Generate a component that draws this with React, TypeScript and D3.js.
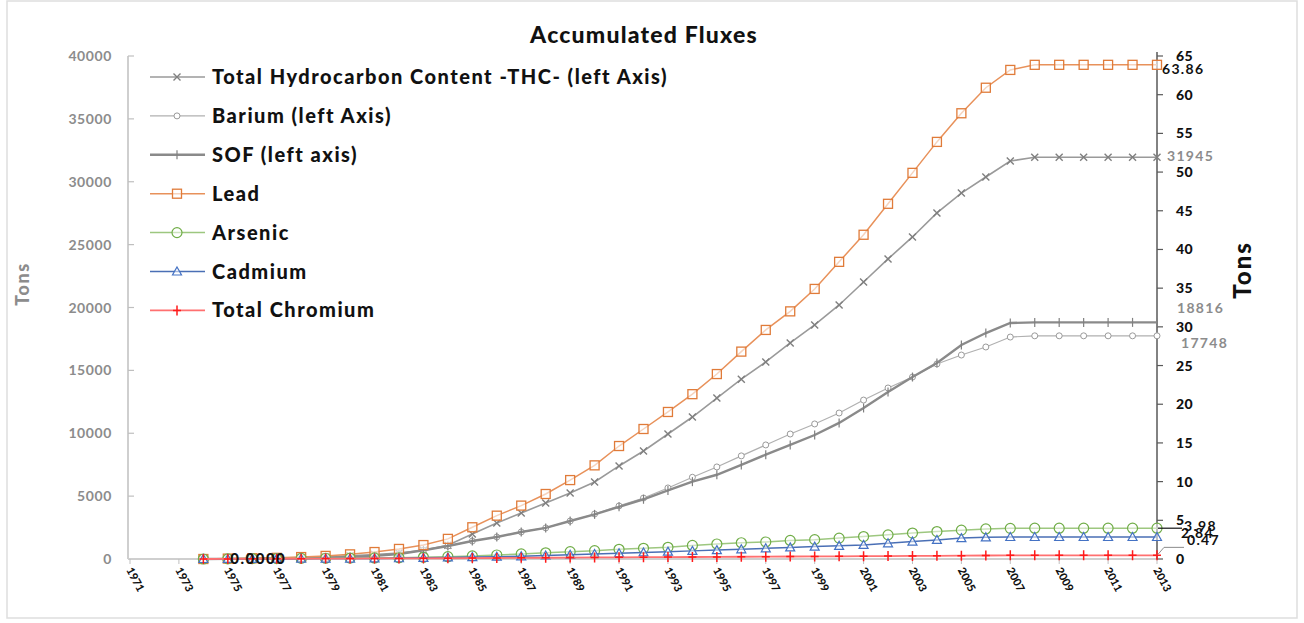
import React from "react";
import * as d3 from "d3";

const years = [1974,1975,1976,1977,1978,1979,1980,1981,1982,1983,1984,1985,1986,1987,1988,1989,1990,1991,1992,1993,1994,1995,1996,1997,1998,1999,2000,2001,2002,2003,2004,2005,2006,2007,2008,2009,2010,2011,2012,2013];
const xTickYears = [1971,1973,1975,1977,1979,1981,1983,1985,1987,1989,1991,1993,1995,1997,1999,2001,2003,2005,2007,2009,2011,2013];
const leftTicks = [0,5000,10000,15000,20000,25000,30000,35000,40000];
const rightTicks = [0,5,10,15,20,25,30,35,40,45,50,55,60,65];

const thc = [0,20,40,70,110,170,250,350,480,700,1100,1990,2860,3660,4450,5250,6120,7400,8590,9940,11290,12800,14300,15670,17180,18610,20200,22030,23860,25610,27520,29100,30380,31650,31945,31945,31945,31945,31945,31945];
const barium = [0,10,20,40,70,110,170,250,400,700,1030,1430,1750,2150,2470,3020,3580,4220,4850,5650,6500,7320,8200,9070,9940,10740,11610,12640,13600,14470,15510,16220,16860,17650,17748,17748,17748,17748,17748,17748];
const sof = [0,10,20,40,70,110,170,250,400,700,1030,1430,1750,2150,2470,3020,3550,4150,4750,5450,6150,6700,7480,8300,9070,9860,10820,12010,13280,14470,15590,17020,17970,18770,18816,18816,18816,18816,18816,18816];
const lead = [0,0.05,0.1,0.15,0.25,0.4,0.6,0.9,1.3,1.8,2.6,4.1,5.6,6.9,8.4,10.2,12.1,14.6,16.8,19.0,21.3,23.9,26.8,29.6,32.0,34.9,38.4,41.9,45.9,49.9,53.9,57.6,60.9,63.2,63.86,63.86,63.86,63.86,63.86,63.86];
const arsenic = [0,0.02,0.04,0.06,0.08,0.1,0.12,0.14,0.16,0.22,0.3,0.4,0.52,0.65,0.8,0.95,1.08,1.25,1.38,1.51,1.75,1.94,2.1,2.2,2.4,2.5,2.7,2.9,3.12,3.35,3.55,3.73,3.88,3.96,3.98,3.98,3.98,3.98,3.98,3.98];
const cadmium = [0,0.01,0.02,0.03,0.04,0.05,0.06,0.08,0.1,0.15,0.2,0.25,0.3,0.35,0.45,0.55,0.65,0.75,0.85,0.95,1.05,1.15,1.25,1.38,1.5,1.6,1.7,1.82,2.03,2.25,2.47,2.7,2.8,2.84,2.84,2.84,2.84,2.84,2.84,2.84];
const chromium = [0,0.01,0.02,0.03,0.04,0.05,0.06,0.07,0.08,0.09,0.1,0.12,0.13,0.15,0.16,0.18,0.2,0.21,0.23,0.25,0.26,0.27,0.29,0.3,0.32,0.33,0.35,0.37,0.38,0.4,0.41,0.43,0.45,0.47,0.47,0.47,0.47,0.47,0.47,0.47];

type Marker = "x" | "o" | "dash" | "square" | "circle" | "tri" | "plus";
interface Series { name: string; values: number[]; axis: "L" | "R"; stroke: string; lineColor: string; width: number; marker: Marker; }

const seriesList: Series[] = [
  { name: "Total Hydrocarbon Content -THC- (left Axis)", values: thc, axis: "L", stroke: "#7f7f7f", lineColor: "#9a9a9a", width: 1.6, marker: "x" },
  { name: "Barium (left Axis)", values: barium, axis: "L", stroke: "#9a9a9a", lineColor: "#b0b0b0", width: 1.2, marker: "o" },
  { name: "SOF (left axis)", values: sof, axis: "L", stroke: "#808080", lineColor: "#8a8a8a", width: 2.4, marker: "dash" },
  { name: "Lead", values: lead, axis: "R", stroke: "#e07b39", lineColor: "#e8915a", width: 1.5, marker: "square" },
  { name: "Arsenic", values: arsenic, axis: "R", stroke: "#70ad47", lineColor: "#9dc77f", width: 1.5, marker: "circle" },
  { name: "Cadmium", values: cadmium, axis: "R", stroke: "#4472c4", lineColor: "#4a6fb5", width: 1.5, marker: "tri" },
  { name: "Total Chromium", values: chromium, axis: "R", stroke: "#ff1a1a", lineColor: "#ff7070", width: 1.8, marker: "plus" },
];

const endLabels = [
  { text: "63.86", dx: 5, dy: 5, color: "#111", series: 3 },
  { text: "31945", dx: 10, dy: 0, color: "#8c8c8c", series: 0 },
  { text: "18816", dx: 20, dy: -13, color: "#8c8c8c", series: 2 },
  { text: "17748", dx: 24, dy: 8, color: "#8c8c8c", series: 1 },
  { text: "3.98", dx: 27, dy: -1, color: "#111", series: 4 },
  { text: "2.84", dx: 24, dy: -3, color: "#111", series: 5 },
  { text: "0.47", dx: 30, dy: -14, color: "#111", series: 6 },
];

const FONT = "Lato, 'Open Sans', sans-serif";

function MarkerShape({ type, x, y, color }: { type: Marker; x: number; y: number; color: string }) {
  switch (type) {
    case "x":
      return <path d={`M${x - 3.5},${y - 3.5}L${x + 3.5},${y + 3.5}M${x - 3.5},${y + 3.5}L${x + 3.5},${y - 3.5}`} stroke={color} strokeWidth={1.4} fill="none" />;
    case "o":
      return <circle cx={x} cy={y} r={3} stroke={color} strokeWidth={1} fill="white" />;
    case "dash":
      return <path d={`M${x},${y - 4.5}L${x},${y + 4.5}`} stroke={color} strokeWidth={1.2} />;
    case "square":
      return <rect x={x - 4.5} y={y - 4.5} width={9} height={9} stroke={color} strokeWidth={1.3} fill="white" fillOpacity={0.6} />;
    case "circle":
      return <circle cx={x} cy={y} r={5} stroke={color} strokeWidth={1.2} fill="white" fillOpacity={0.5} />;
    case "tri":
      return <path d={`M${x},${y - 4.5}L${x + 4.5},${y + 3.5}L${x - 4.5},${y + 3.5}Z`} stroke={color} strokeWidth={1.2} fill="white" fillOpacity={0.5} />;
    case "plus":
      return <path d={`M${x},${y - 5}L${x},${y + 5}M${x - 4},${y}L${x + 4},${y}`} stroke={color} strokeWidth={1.5} />;
  }
}

export default function App() {
  const W = 1304, H = 623;
  const x = d3.scaleLinear().domain([1971, 2013]).range([130, 1157]);
  const yL = d3.scaleLinear().domain([0, 40000]).range([559, 56]);
  const yR = d3.scaleLinear().domain([0, 65]).range([559, 56]);
  const yOf = (s: Series) => (s.axis === "L" ? yL : yR);

  return (
    <svg width={W} height={H} style={{ position: "absolute", left: 0, top: 0, background: "white" }} fontFamily={FONT}>
      <rect x={7} y={1} width={1290} height={617} fill="white" stroke="#dedede" strokeWidth={1.5} />
      <text x={644} y={43} textAnchor="middle" fontSize={23} fontWeight={900} letterSpacing={1.2} fill="#111">Accumulated Fluxes</text>

      {/* left axis */}
      <line x1={128} y1={56} x2={128} y2={559} stroke="#bfbfbf" strokeWidth={1.5} />
      {leftTicks.map((t) => (
        <g key={t}>
          <line x1={128} x2={134} y1={yL(t)} y2={yL(t)} stroke="#bfbfbf" strokeWidth={1.2} />
          <text x={112} y={yL(t) + 5} textAnchor="end" fontSize={14} fontWeight={700} letterSpacing={0.6} fill="#8c8c8c">{t}</text>
        </g>
      ))}
      <text transform="translate(29,284) rotate(-90)" textAnchor="middle" fontSize={18} fontWeight={900} letterSpacing={1.5} fill="#8c8c8c">Tons</text>

      {/* x axis */}
      <line x1={128} y1={559} x2={1157} y2={559} stroke="#cfcfcf" strokeWidth={2} />
      {xTickYears.map((yr) => (
        <g key={yr}>
          <line x1={x(yr)} x2={x(yr)} y1={559} y2={564} stroke="#bfbfbf" strokeWidth={1} />
          <text transform={`translate(${x(yr) - 4},${570}) rotate(62)`} fontSize={11} fontWeight={900} fill="#111">{yr}</text>
        </g>
      ))}

      {/* right axis */}
      <line x1={1157} y1={52} x2={1157} y2={559} stroke="#595959" strokeWidth={1.5} />
      {rightTicks.map((t) => (
        <g key={t}>
          <line x1={1157} x2={1163} y1={yR(t)} y2={yR(t)} stroke="#595959" strokeWidth={1.2} />
          <text x={1176} y={yR(t) + 5} fontSize={14} fontWeight={900} letterSpacing={0.5} fill="#111">{t}</text>
        </g>
      ))}
      <text transform="translate(1251,270) rotate(-90)" textAnchor="middle" fontSize={24} fontWeight={900} letterSpacing={2} fill="#111">Tons</text>

      {/* series */}
      {seriesList.map((s, si) => {
        const ys = yOf(s);
        const line = d3.line<number>().x((_, i) => x(years[i])).y((v) => ys(v));
        return (
          <g key={si}>
            <path d={line(s.values) || ""} fill="none" stroke={s.lineColor} strokeWidth={s.width} />
            {s.values.map((v, i) => (
              <MarkerShape key={i} type={s.marker} x={x(years[i])} y={ys(v)} color={s.stroke} />
            ))}
          </g>
        );
      })}

      {/* data labels */}
      <text x={x(1976) + 6} y={564} textAnchor="middle" fontSize={15} fontWeight={900} letterSpacing={1.5} fill="#111">0.0000</text>
      <line x1={1158} y1={yR(arsenic[39])} x2={1182} y2={yR(arsenic[39])} stroke="#111" strokeWidth={1.2} />
      <path d={`M1158,${yR(chromium[39]) - 1}L1164,${yR(chromium[39]) - 8}L1184,${yR(chromium[39]) - 8}`} stroke="#8c8c8c" strokeWidth={1} fill="none" />
      {endLabels.map((l, i) => {
        const s = seriesList[l.series];
        const v = s.values[s.values.length - 1];
        return (
          <text key={i} x={x(2013) + l.dx} y={yOf(s)(v) + l.dy + 4} fontSize={14} fontWeight={700} letterSpacing={1.3} fill={l.color}>{l.text}</text>
        );
      })}

      {/* legend */}
      {seriesList.map((s, i) => {
        const ly = 77 + i * 38.9;
        return (
          <g key={i}>
            <line x1={150} x2={205} y1={ly} y2={ly} stroke={s.lineColor} strokeWidth={s.width} />
            <MarkerShape type={s.marker} x={177} y={ly} color={s.stroke} />
            <text x={212} y={ly + 7} fontSize={20} fontWeight={900} letterSpacing={1.5} fill="#111">{s.name}</text>
          </g>
        );
      })}
    </svg>
  );
}
